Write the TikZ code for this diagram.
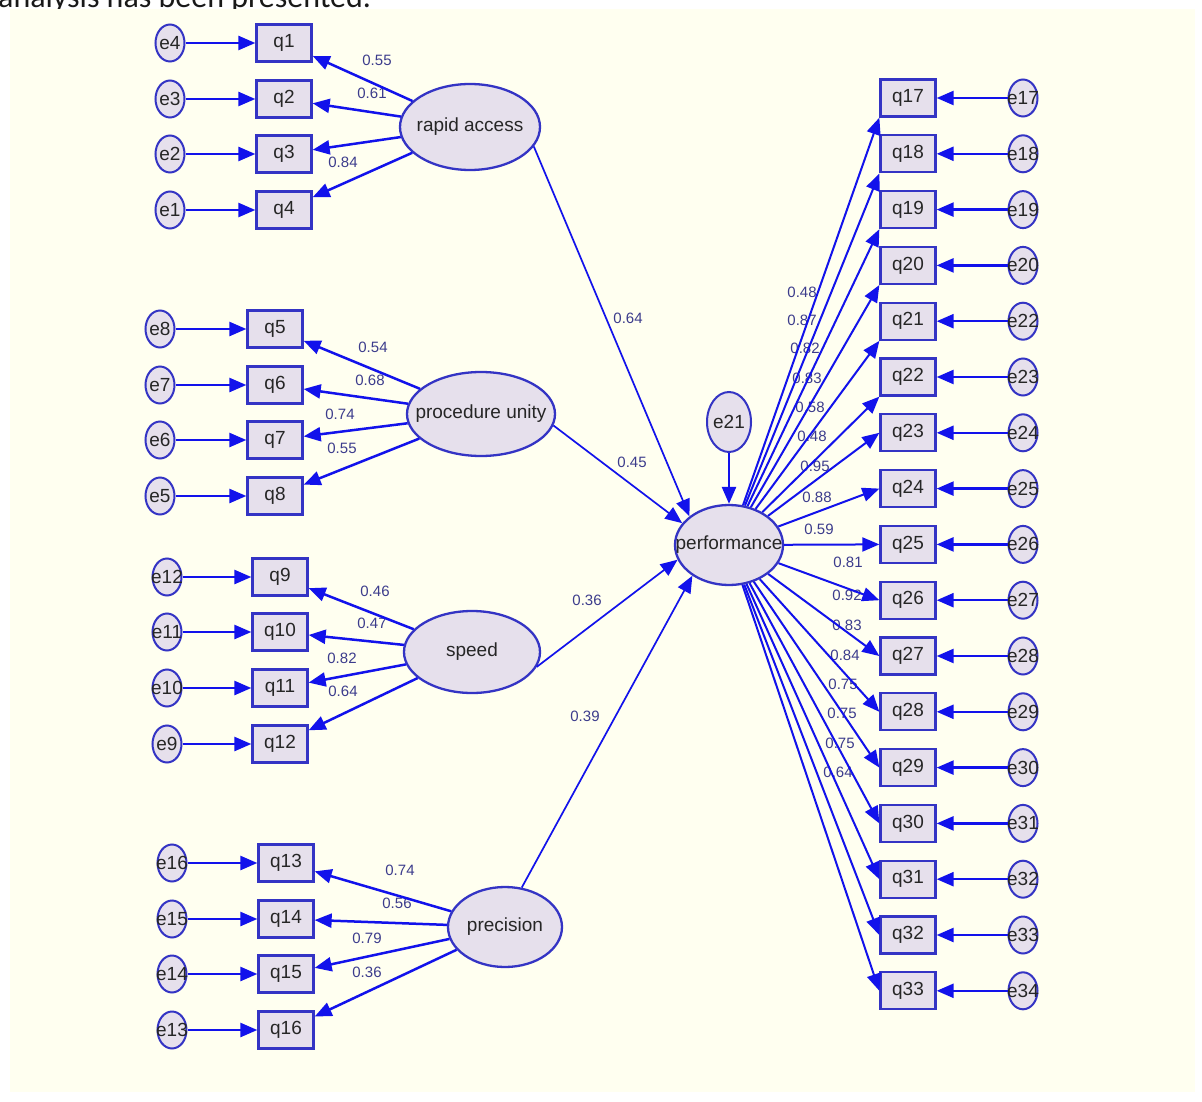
\documentclass[tikz,border=0pt]{standalone}
\usepackage{fontspec}
\setmainfont{Liberation Sans}
\newfontfamily\bodyfont{Carlito}
\usetikzlibrary{arrows.meta,shapes.geometric}
\definecolor{paper}{RGB}{255,255,240}
\definecolor{lineblue}{RGB}{18,18,235}
\definecolor{rimblue}{RGB}{52,52,196}
\definecolor{varfill}{RGB}{230,224,236}
\definecolor{wtblue}{RGB}{60,60,140}

\begin{document}
\begin{tikzpicture}[x=1pt,y=-1pt,>={Triangle[length=17pt,width=14pt]},
  var node/.style={rectangle,draw=rimblue,fill=varfill,line width=2.3pt,minimum width=55pt,minimum height=37pt,inner sep=0pt,font=\fontsize{19}{19}\selectfont,text=black!85},
  err node/.style={ellipse,draw=rimblue,fill=varfill,line width=2pt,minimum width=29pt,minimum height=37pt,inner sep=0pt},
  lat node/.style={ellipse,draw=rimblue,fill=varfill,line width=2.3pt,inner sep=0pt},
  in text/.style={font=\fontsize{19}{19}\selectfont,text=black!85,inner sep=0pt},
  wt/.style={font=\fontsize{15}{15}\selectfont,text=wtblue,inner sep=0pt},
  path line/.style={->,color=lineblue,line width=2.5pt}]

    \useasboundingbox (0,0) rectangle (1202,1102);
    \node[anchor=base west,inner sep=0pt,font=\bodyfont\fontsize{32}{32}\selectfont,text=black!90] (intro) at (-2,7.5) {analysis has been presented.};
    \fill[paper] (10,9) rectangle (1195,1092);

    % rapid access
    \node[err node,label={[in text]center:e4}] (e4) at (170,43) {};
    \node[err node,label={[in text]center:e3}] (e3) at (170,99) {};
    \node[err node,label={[in text]center:e2}] (e2) at (170,154) {};
    \node[err node,label={[in text]center:e1}] (e1) at (170,210) {};
    \node[var node] (q1) at (284,43) {q1};
    \node[var node] (q2) at (284,99) {q2};
    \node[var node] (q3) at (284,154) {q3};
    \node[var node] (q4) at (284,210) {q4};
    \node[lat node,minimum width=140pt,minimum height=86pt,label={[in text]center:rapid access}] (ra) at (470,127) {};

    % procedure unity
    \node[err node,label={[in text]center:e8}] (e8) at (160,329) {};
    \node[err node,label={[in text]center:e7}] (e7) at (160,385) {};
    \node[err node,label={[in text]center:e6}] (e6) at (160,440) {};
    \node[err node,label={[in text]center:e5}] (e5) at (160,496) {};
    \node[var node] (q5) at (275,329) {q5};
    \node[var node] (q6) at (275,385) {q6};
    \node[var node] (q7) at (275,440) {q7};
    \node[var node] (q8) at (275,496) {q8};
    \node[lat node,minimum width=148pt,minimum height=84pt,label={[in text]center:procedure unity}] (pu) at (481,414) {};

    % speed
    \node[err node,label={[in text]center:e12}] (e12) at (167,577) {};
    \node[err node,label={[in text]center:e11}] (e11) at (167,632) {};
    \node[err node,label={[in text]center:e10}] (e10) at (167,688) {};
    \node[err node,label={[in text]center:e9}] (e9) at (167,744) {};
    \node[var node] (q9) at (280,577) {q9};
    \node[var node] (q10) at (280,632) {q10};
    \node[var node] (q11) at (280,688) {q11};
    \node[var node] (q12) at (280,744) {q12};
    \node[lat node,minimum width=136pt,minimum height=82pt,label={[in text]center:speed}] (sp) at (472,652) {};

    % precision
    \node[err node,label={[in text]center:e16}] (e16) at (172,863) {};
    \node[err node,label={[in text]center:e15}] (e15) at (172,919) {};
    \node[err node,label={[in text]center:e14}] (e14) at (172,974) {};
    \node[err node,label={[in text]center:e13}] (e13) at (172,1030) {};
    \node[var node] (q13) at (286,863) {q13};
    \node[var node] (q14) at (286,919) {q14};
    \node[var node] (q15) at (286,974) {q15};
    \node[var node] (q16) at (286,1030) {q16};
    \node[lat node,minimum width=114pt,minimum height=80pt,label={[in text]center:precision}] (pr) at (505,927) {};

    % performance
    \node[lat node,minimum width=108pt,minimum height=80pt,label={[in text]center:performance}] (perf) at (729,545) {};
    \node[err node,minimum width=44pt,minimum height=60pt,label={[in text]center:e21}] (e21) at (729,422) {};
    \foreach \i/\e [count=\k from 0] in {17/17,18/18,19/19,20/20,21/22,22/23,23/24,24/25,25/26,26/27,27/28,28/29,29/30,30/31,31/32,32/33,33/34}{
        \node[var node] (q\i) at (908,98+55.8*\k) {q\i};
        \node[err node,label={[in text]center:e\e}] (e\e) at (1023,98+55.8*\k) {};
    }

    % weights
    \node[wt] (w1) at (377,60) {0.55};
    \node[wt] (w2) at (372,93) {0.61};
    \node[wt] (w3) at (343,162) {0.84};
    \node[wt] (w5) at (373,347) {0.54};
    \node[wt] (w6) at (370,380) {0.68};
    \node[wt] (w7) at (340,414) {0.74};
    \node[wt] (w8) at (342,448) {0.55};
    \node[wt] (w9) at (375,591) {0.46};
    \node[wt] (w10) at (372,623) {0.47};
    \node[wt] (w11) at (342,658) {0.82};
    \node[wt] (w12) at (343,691) {0.64};
    \node[wt] (w13) at (400,870) {0.74};
    \node[wt] (w14) at (397,903) {0.56};
    \node[wt] (w15) at (367,938) {0.79};
    \node[wt] (w16) at (367,972) {0.36};
    \node[wt] (wra) at (628,318) {0.64};
    \node[wt] (wpu) at (632,462) {0.45};
    \node[wt] (wsp) at (587,600) {0.36};
    \node[wt] (wpr) at (585,716) {0.39};
    \foreach \v/\x/\y [count=\i from 17] in {0.48/802/292,0.87/802/320,0.82/805/348,0.83/807/378,0.58/810/407,0.48/812/436,0.95/815/466,0.88/817/497,0.59/819/529,0.81/848/562,0.92/847/595,0.83/847/625,0.84/845/655,0.75/843/684,0.75/842/713,0.75/840/743,0.64/838/772}{
        \node[wt] (w\i) at (\x,\y) {\v};
    }

    \path[path line]
        (e4) edge (q1)  (e3) edge (q2)  (e2) edge (q3)  (e1) edge (q4)
        (ra) edge (q1)  (ra) edge (q2)  (ra) edge (q3)  (ra) edge (q4)
        (e8) edge (q5)  (e7) edge (q6)  (e6) edge (q7)  (e5) edge (q8)
        (pu) edge (q5)  (pu) edge (q6)  (pu) edge (q7)  (pu) edge (q8)
        (e12) edge (q9)  (e11) edge (q10)  (e10) edge (q11)  (e9) edge (q12)
        (sp) edge (q9)  (sp) edge (q10)  (sp) edge (q11)  (sp) edge (q12)
        (e16) edge (q13)  (e15) edge (q14)  (e14) edge (q15)  (e13) edge (q16)
        (pr) edge (q13)  (pr) edge (q14)  (pr) edge (q15)  (pr) edge (q16)
        (e21) edge (perf)
    ;
    \path[path line,line width=1.7pt]
        (ra.-17) edge (perf.144)
        (pu.-9) edge (perf.155)
        (sp.-13) edge (perf.196)
        (pr.67) edge (perf.220)
    ;
    \foreach \i/\e in {17/17,18/18,19/19,20/20,21/22,22/23,23/24,24/25,25/26,26/27,27/28,28/29,29/30,30/31,31/32,32/33,33/34}{
        \path[path line] (e\e) edge (q\i);
    }
    \foreach \i in {17,...,22}{
        \path[path line,line width=2pt] (perf) edge (q\i.south west);
    }
    \foreach \i in {23,...,33}{
        \path[path line,line width=2pt] (perf) edge (q\i.west);
    }
\end{tikzpicture}
\end{document}
